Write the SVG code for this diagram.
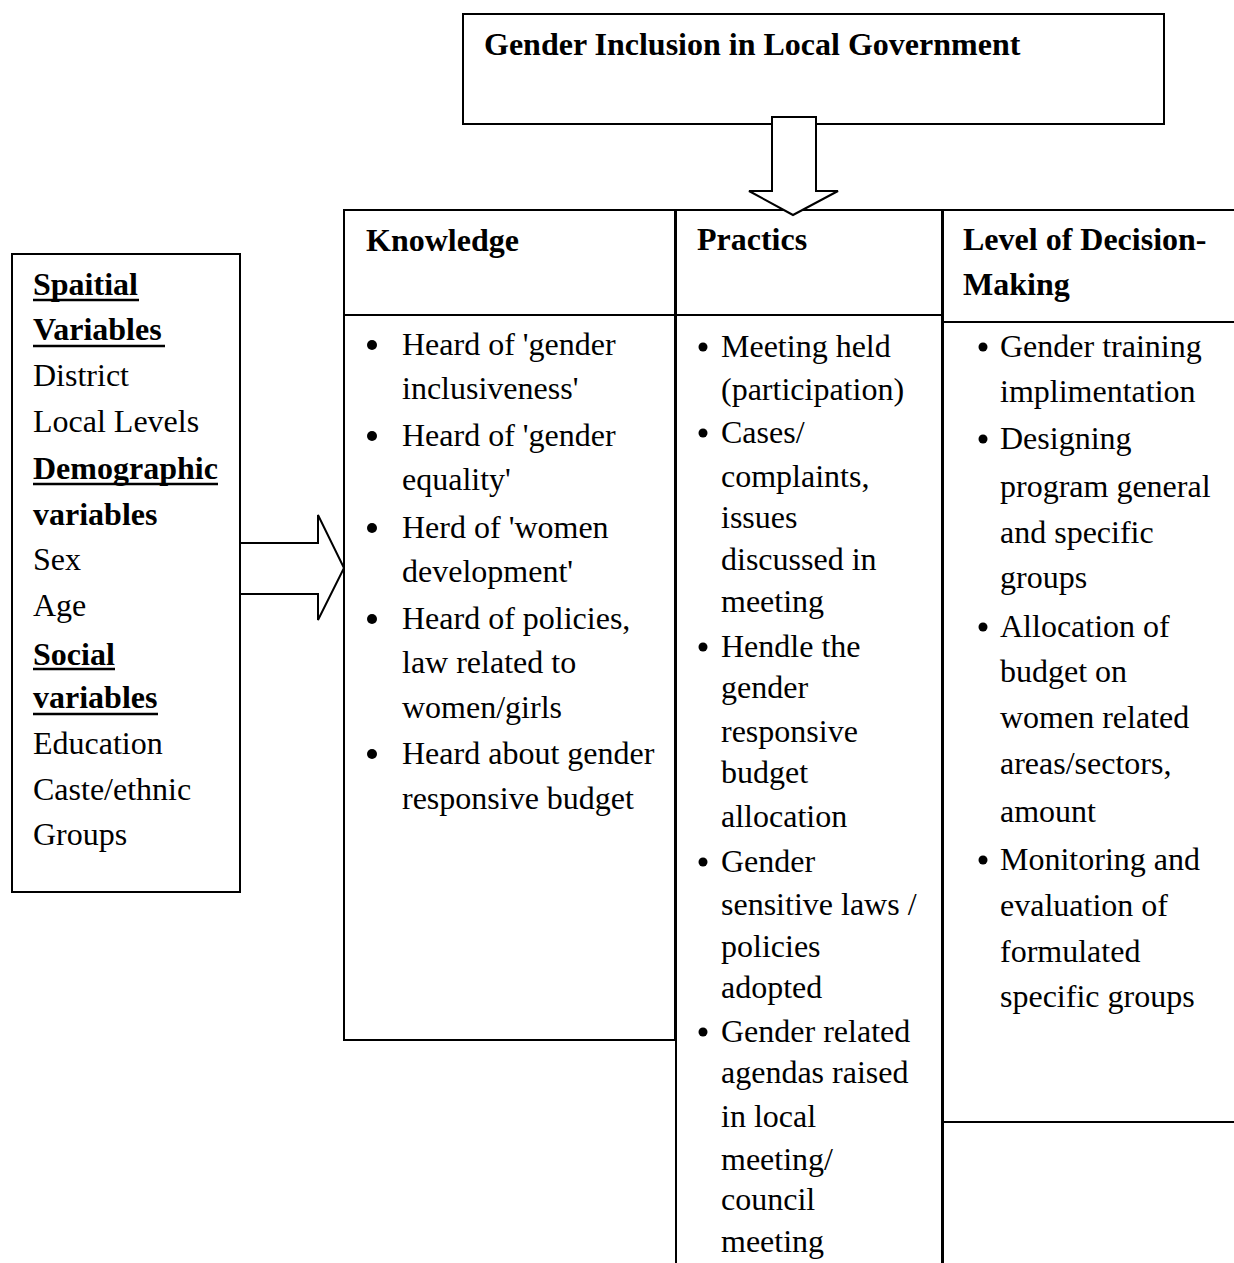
<svg xmlns="http://www.w3.org/2000/svg" width="1234" height="1263" viewBox="0 0 1234 1263">
<defs>
<style>
text{font-family:"Liberation Serif","Times New Roman",serif;font-size:32px;fill:#000}
.b{font-weight:bold}
.ul{stroke:#000;stroke-width:2.5;fill:none}
.box{fill:#fff;stroke:#000;stroke-width:2}
.ln{stroke:#000;stroke-width:2;fill:none}
.arr{fill:#fff;stroke:#000;stroke-width:2;stroke-linejoin:miter}
.dot{fill:#000}
</style>
</defs>
<rect width="1234" height="1263" fill="#fff"/>

<g id="node-top">
<rect class="box" x="463" y="14" width="701" height="110"/>
<text class="b" x="484" y="55">Gender Inclusion in Local Government</text>
</g>

<g id="node-variables">
<rect class="box" x="12" y="254" width="228" height="638"/>
<text class="b" x="33" y="295">Spaitial</text>
<line class="ul" x1="33" y1="300" x2="139" y2="300"/>
<text class="b" x="33" y="340">Variables</text>
<line class="ul" x1="33" y1="346" x2="165" y2="346"/>
<text x="33" y="386">District</text>
<text x="33" y="432">Local Levels</text>
<text class="b" x="33" y="479">Demographic</text>
<line class="ul" x1="33" y1="484" x2="218" y2="484"/>
<text class="b" x="33" y="525">variables</text>
<text x="33" y="570">Sex</text>
<text x="33" y="616">Age</text>
<text class="b" x="33" y="665">Social</text>
<line class="ul" x1="33" y1="669" x2="115" y2="669"/>
<text class="b" x="33" y="708">variables</text>
<line class="ul" x1="33" y1="714" x2="158" y2="714"/>
<text x="33" y="754">Education</text>
<text x="33" y="800">Caste/ethnic</text>
<text x="33" y="845">Groups</text>
</g>

<g id="node-knowledge">
<rect class="box" x="344" y="210" width="331" height="830"/>
<line class="ln" x1="344" y1="315" x2="675" y2="315"/>
<text class="b" x="366" y="251">Knowledge</text>
<circle class="dot" cx="372" cy="345" r="5"/>
<circle class="dot" cx="372" cy="436" r="5"/>
<circle class="dot" cx="372" cy="528" r="5"/>
<circle class="dot" cx="372" cy="619" r="5"/>
<circle class="dot" cx="372" cy="754" r="5"/>
<text x="402" y="355">Heard of 'gender</text>
<text x="402" y="399">inclusiveness'</text>
<text x="402" y="446">Heard of 'gender</text>
<text x="402" y="490">equality'</text>
<text x="402" y="538">Herd of 'women</text>
<text x="402" y="582">development'</text>
<text x="402" y="629">Heard of policies,</text>
<text x="402" y="673">law related to</text>
<text x="402" y="718">women/girls</text>
<text x="402" y="764">Heard about gender</text>
<text x="402" y="809">responsive budget</text>
</g>

<g id="node-practics">
<path class="ln" d="M676,1263 V210 H942 V1263"/>
<line class="ln" x1="676" y1="315" x2="942" y2="315"/>
<text class="b" x="697" y="250">Practics</text>
<circle class="dot" cx="703" cy="347" r="4.5"/>
<circle class="dot" cx="703" cy="433" r="4.5"/>
<circle class="dot" cx="703" cy="647" r="4.5"/>
<circle class="dot" cx="703" cy="862" r="4.5"/>
<circle class="dot" cx="703" cy="1032" r="4.5"/>
<text x="721" y="357">Meeting held</text>
<text x="721" y="400">(participation)</text>
<text x="721" y="443">Cases/</text>
<text x="721" y="487">complaints,</text>
<text x="721" y="528">issues</text>
<text x="721" y="570">discussed in</text>
<text x="721" y="612">meeting</text>
<text x="721" y="657">Hendle the</text>
<text x="721" y="698">gender</text>
<text x="721" y="742">responsive</text>
<text x="721" y="783">budget</text>
<text x="721" y="827">allocation</text>
<text x="721" y="872">Gender</text>
<text x="721" y="915">sensitive laws /</text>
<text x="721" y="957">policies</text>
<text x="721" y="998">adopted</text>
<text x="721" y="1042">Gender related</text>
<text x="721" y="1083">agendas raised</text>
<text x="721" y="1127">in local</text>
<text x="721" y="1170">meeting/</text>
<text x="721" y="1210">council</text>
<text x="721" y="1252">meeting</text>
</g>

<g id="node-decision">
<path class="ln" d="M1234,210 H943 V1263"/>
<line class="ln" x1="943" y1="322" x2="1234" y2="322"/>
<line class="ln" x1="943" y1="1122" x2="1234" y2="1122"/>
<text class="b" x="963" y="250">Level of Decision-</text>
<text class="b" x="963" y="295">Making</text>
<circle class="dot" cx="983" cy="347" r="4.5"/>
<circle class="dot" cx="983" cy="439" r="4.5"/>
<circle class="dot" cx="983" cy="627" r="4.5"/>
<circle class="dot" cx="983" cy="860" r="4.5"/>
<text x="1000" y="357">Gender training</text>
<text x="1000" y="402">implimentation</text>
<text x="1000" y="449">Designing</text>
<text x="1000" y="497">program general</text>
<text x="1000" y="543">and specific</text>
<text x="1000" y="588">groups</text>
<text x="1000" y="637">Allocation of</text>
<text x="1000" y="682">budget on</text>
<text x="1000" y="728">women related</text>
<text x="1000" y="774">areas/sectors,</text>
<text x="1000" y="822">amount</text>
<text x="1000" y="870">Monitoring and</text>
<text x="1000" y="916">evaluation of</text>
<text x="1000" y="962">formulated</text>
<text x="1000" y="1007">specific groups</text>
</g>

<g id="connectors">
<polygon class="arr" points="772,117 816,117 816,191 838,191 793,215 749,191 772,191"/>
<polygon class="arr" points="240,543 318,543 318,515 344,568 318,620 318,594 240,594"/>
</g>
</svg>
